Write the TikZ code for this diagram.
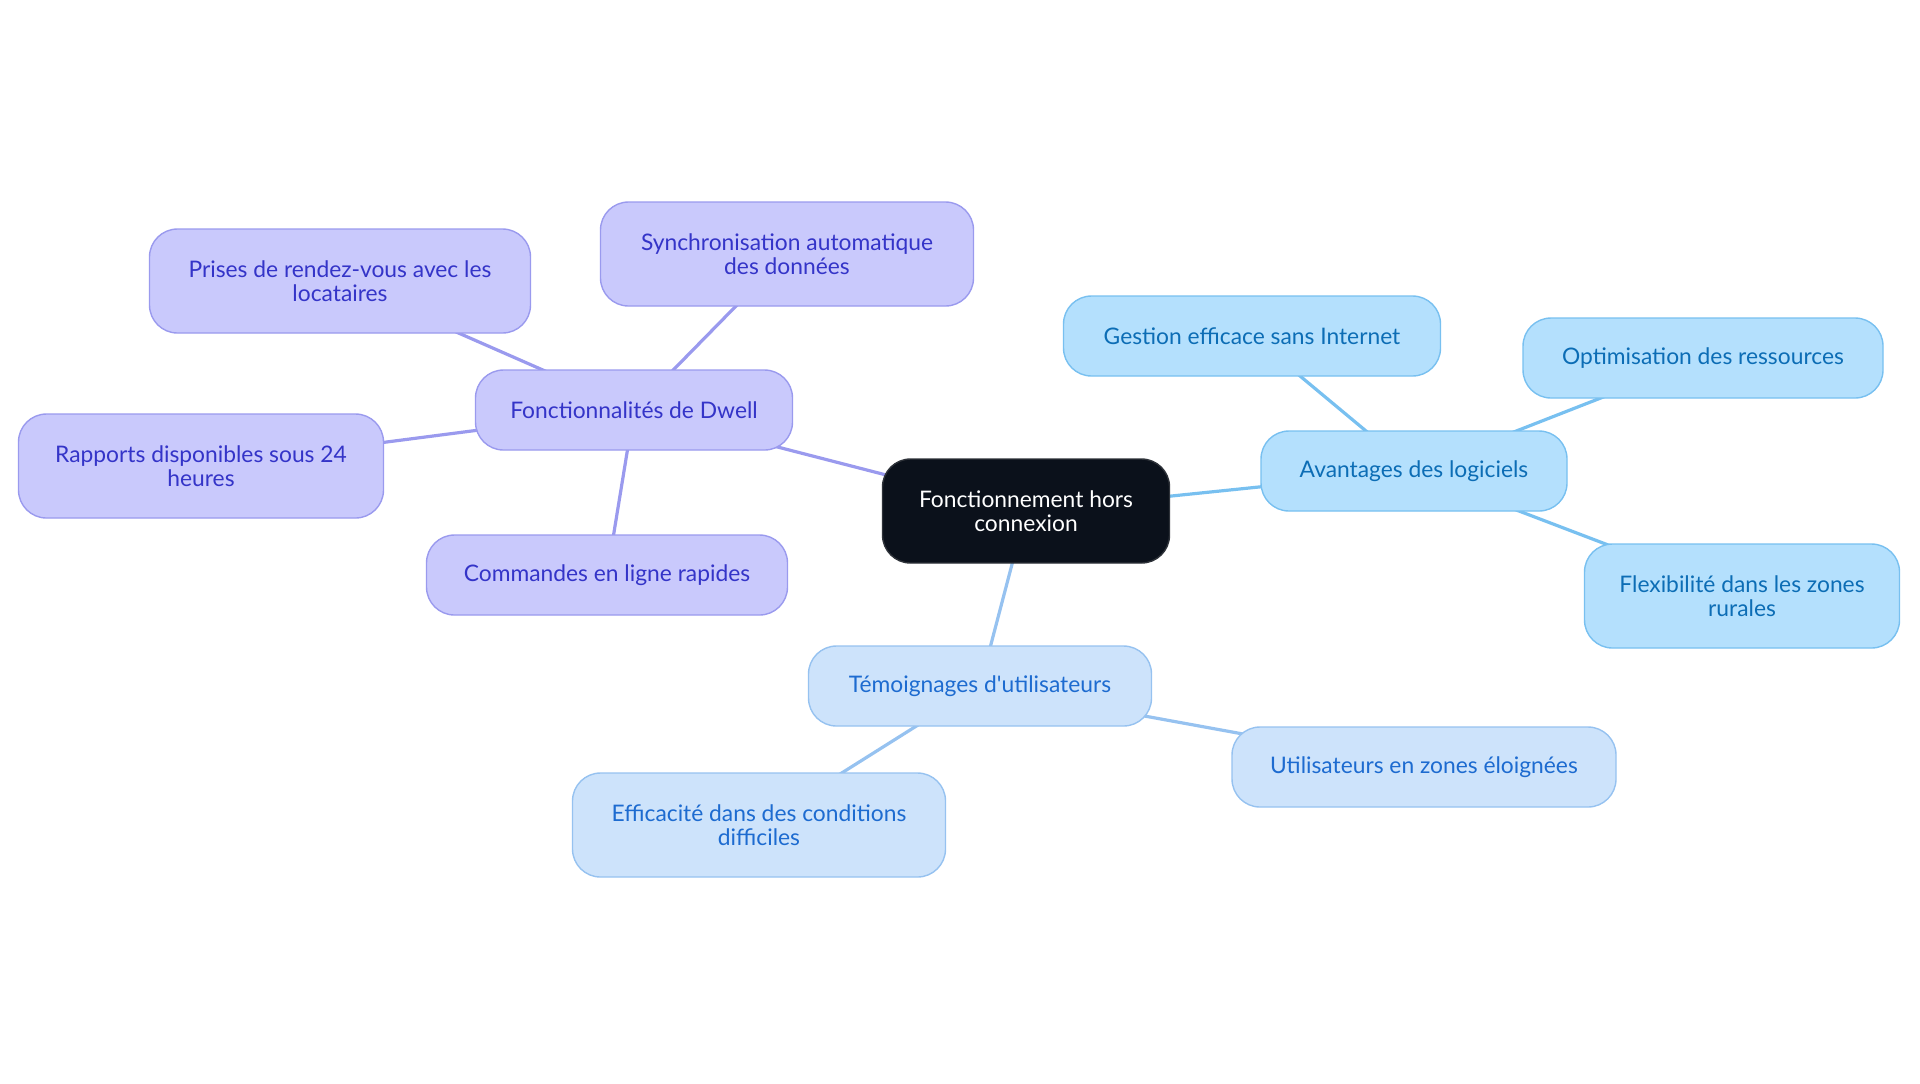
\documentclass[tikz,border=0pt]{standalone}
\usepackage{fontspec}
\setmainfont{Lato}
\usetikzlibrary{backgrounds}
\definecolor{rootfill}{HTML}{0B111B}
\definecolor{dwfill}{HTML}{C9C9FC}
\definecolor{dwline}{HTML}{9A9AEE}
\definecolor{dwtext}{HTML}{3434C8}
\definecolor{avfill}{HTML}{B4E0FD}
\definecolor{avline}{HTML}{78C0F0}
\definecolor{avtext}{HTML}{0C6DB5}
\definecolor{tefill}{HTML}{CDE3FB}
\definecolor{teline}{HTML}{96C2F0}
\definecolor{tetext}{HTML}{1D6BD0}
\tikzstyle{box} = [draw, line width=0.7pt, rounded corners=14pt, align=center, inner sep=2pt, minimum height=40pt, font=\fontsize{11.4pt}{12.25pt}\selectfont]
\tikzstyle{root} = [box, draw=rootfill!70!gray, fill=rootfill, text=white]
\tikzstyle{dw} = [box, draw=dwline, fill=dwfill, text=dwtext]
\tikzstyle{av} = [box, draw=avline, fill=avfill, text=avtext]
\tikzstyle{te} = [box, draw=teline, fill=tefill, text=tetext]
\tikzstyle{two} = [minimum height=52pt]
\tikzstyle{link} = [-, line width=1.6pt]

\begin{document}
\begin{tikzpicture}[x=0.5pt, y=-0.5pt]
\useasboundingbox (0,0) rectangle (1920,1083);
%\node [draw=none] at (960,40) {Mind map};
\node [root, two, minimum width=143.5pt] (R) at (1026, 511) {Fonctionnement hors\\connexion};
\node [dw, minimum width=158.5pt] (D) at (634, 410) {Fonctionnalités de Dwell};
\node [dw, two, minimum width=186.5pt] (D1) at (787, 254) {Synchronisation automatique\\des données};
\node [dw, two, minimum width=190.5pt] (D2) at (340, 281) {Prises de rendez-vous avec les\\locataires};
\node [dw, two, minimum width=182.5pt] (D3) at (201, 466) {Rapports disponibles sous 24\\heures};
\node [dw, minimum width=180.5pt] (D4) at (607, 575) {Commandes en ligne rapides};
\node [av, minimum width=153pt] (A) at (1414, 471) {Avantages des logiciels};
\node [av, minimum width=188.5pt] (A1) at (1252, 336) {Gestion efficace sans Internet};
\node [av, minimum width=180pt] (A2) at (1703, 358) {Optimisation des ressources};
\node [av, two, minimum width=157.5pt] (A3) at (1742, 596) {Flexibilité dans les zones\\rurales};
\node [te, minimum width=171.5pt] (T) at (980, 686) {Témoignages d\textquotesingle utilisateurs};
\node [te, minimum width=192pt] (T1) at (1424, 767) {Utilisateurs en zones éloignées};
\node [te, two, minimum width=186.5pt] (T2) at (759, 825) {Efficacité dans des conditions\\difficiles};
\begin{pgfonlayer}{background}
\draw [link, draw=dwline] (R.center) to (D.center);
\draw [link, draw=dwline] (D.center) to (D1.center);
\draw [link, draw=dwline] (D.center) to (D2.center);
\draw [link, draw=dwline] (D.center) to (D3.center);
\draw [link, draw=dwline] (D.center) to (D4.center);
\draw [link, draw=avline] (R.center) to (A.center);
\draw [link, draw=avline] (A.center) to (A1.center);
\draw [link, draw=avline] (A.center) to (A2.center);
\draw [link, draw=avline] (A.center) to (A3.center);
\draw [link, draw=teline] (R.center) to (T.center);
\draw [link, draw=teline] (T.center) to (T1.center);
\draw [link, draw=teline] (T.center) to (T2.center);
\end{pgfonlayer}
\end{tikzpicture}
\end{document}
